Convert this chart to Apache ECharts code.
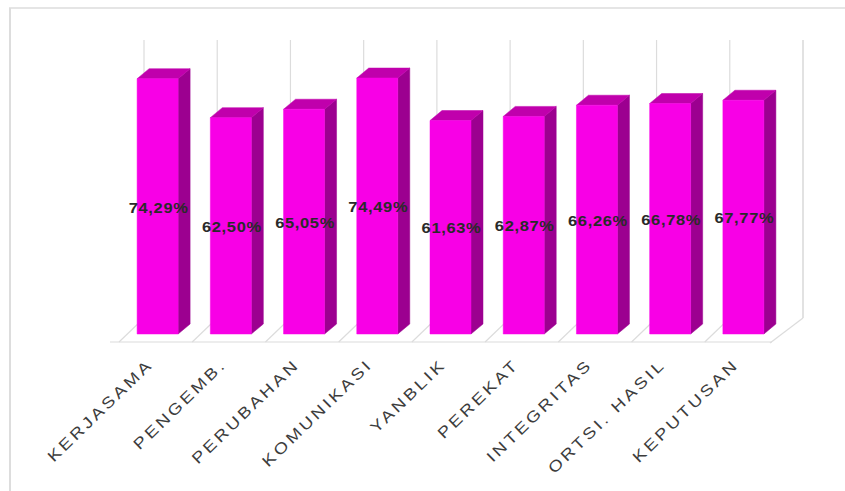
<!DOCTYPE html>
<html><head><meta charset="utf-8">
<style>html,body{margin:0;padding:0;background:#fff}#c{width:845px;height:491px;letter-spacing:2.5px}
#c svg text[style*="bold"]{letter-spacing:0.6px}</style>
<script src="https://cdn.jsdelivr.net/npm/echarts@6/dist/echarts.min.js"></script>
</head><body><div id="c"></div>
<script>
const categories = ['KERJASAMA','PENGEMB.','PERUBAHAN','KOMUNIKASI','YANBLIK','PEREKAT','INTEGRITAS','ORTSI. HASIL','KEPUTUSAN'];
const values = [74.29,62.50,65.05,74.49,61.63,62.87,66.26,66.78,67.77];
const axisMin = -3, axisMax = 86;
const depthX = 12, depthY = 10, barW = 41;
const chart = echarts.init(document.getElementById('c'),null,{renderer:'svg'});
const idx = categories.map((c,i)=>i);
function poly(pts, fill){ return {type:'polygon',shape:{points:pts},style:{fill:fill,stroke:fill,lineWidth:0.5}}; }
function line(x1,y1,x2,y2,c){ return {type:'line',shape:{x1,y1,x2,y2},style:{stroke:c||'#dcdcdc',lineWidth:1.2,fill:null}}; }
chart.setOption({
  animation:false,
  backgroundColor:'#fff',
  graphic:[
    {type:'line',silent:true,z:-10,shape:{x1:9,y1:8,x2:845,y2:8},style:{stroke:'#dddddd',lineWidth:1.5}},
    {type:'line',silent:true,z:-10,shape:{x1:10,y1:8,x2:10,y2:491},style:{stroke:'#dddddd',lineWidth:2}}
  ],
  grid:{left:121,right:65,top:40,bottom:157},
  xAxis:{type:'category',data:categories,axisLine:{show:false},axisTick:{show:false},axisLabel:{show:false}},
  yAxis:{type:'value',min:axisMin,max:axisMax,axisLine:{show:false},axisTick:{show:false},axisLabel:{show:false},splitLine:{show:false}},
  series:[
   {type:'custom',z:1,silent:true,data:idx.map(i=>[i,axisMin]),renderItem(p,api){
      const b=api.coord([api.value(0),axisMin]);
      const band=api.size([1,0])[0];
      const top=api.coord([0,axisMax])[1];
      const els=[];
      const gx=b[0]-band/2+23, bY=b[1]-16;
      els.push(line(gx,top,gx,bY));
      els.push(line(gx,bY,gx-25,b[1]+8));
      if(api.value(0)===0) els.push(line(b[0]-band/2-11,b[1]+8,b[0]+band*8+band/2-8,b[1]+8));
      if(api.value(0)===8) els.push(line(gx+band,top,gx+band,bY,'#cfcfcf'), line(gx+band,bY,gx+band-33,b[1]+9));
      return {type:'group',children:els};
   }},
   {type:'custom',z:2,data:idx.map(i=>[i,values[i]]),renderItem(p,api){
      const b=api.coord([api.value(0),axisMin]), t=api.coord([api.value(0),api.value(1)]);
      const l=b[0]-barW/2, r=b[0]+barW/2, y0=b[1], y1=t[1];
      return {type:'group',children:[
        poly([[r,y1],[r+depthX,y1-depthY],[r+depthX,y0-depthY],[r,y0]],'#9c0090'),
        poly([[l,y1],[l+depthX,y1-depthY],[r+depthX,y1-depthY],[r,y1]],'#c000ac'),
        poly([[l,y1],[r,y1],[r,y0],[l,y0]],'#f800e6')
      ]};
   }},
   {type:'custom',z:3,silent:true,data:idx.map(i=>[i,values[i]]),renderItem(p,api){
      const b=api.coord([api.value(0),axisMin]), t=api.coord([api.value(0),api.value(1)]);
      return {type:'text',x:b[0]+1,y:(b[1]+t[1])/2+1,scaleX:1.1,style:{text:api.value(1).toFixed(2).replace('.',',')+'%',align:'center',verticalAlign:'middle',font:'bold 15px "Liberation Sans", Arial, sans-serif',fill:'#2a2a2a'}};
   }},
   {type:'custom',z:3,silent:true,data:idx.map(i=>[i,axisMin]),renderItem(p,api){
      const i=api.value(0), b=api.coord([i,axisMin]);
      return {type:'text',x:b[0]-7,y:b[1]+28,rotation:Math.PI*0.245,scaleX:1.2,scaleY:1,style:{text:categories[i],align:'right',verticalAlign:'middle',font:'15.5px "Liberation Sans", Arial, sans-serif',fill:'#3c3c3c'}};
   }}
  ]
});
</script></body></html>
